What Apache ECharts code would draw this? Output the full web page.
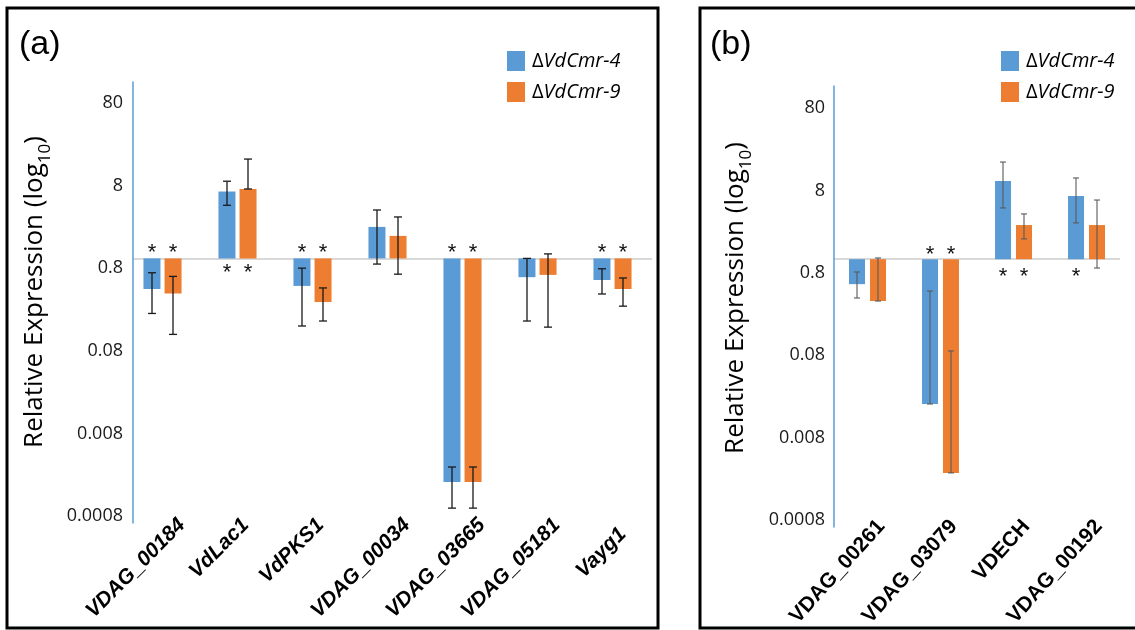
<!DOCTYPE html>
<html><head><meta charset="utf-8">
<script src="https://cdn.jsdelivr.net/npm/echarts@6/dist/echarts.min.js"></script>
<style>html,body{margin:0;padding:0;background:#fff}#c{width:1135px;height:630px}</style>
</head><body><div id="c"></div>
<script>
// ---------- DATA ----------
// Panel (a)
const catsA = ['VDAG_00184','VdLac1','VdPKS1','VDAG_00034','VDAG_03665','VDAG_05181','Vayg1'];
const a4   = [0.36, 4.6, 0.39, 1.82, 0.00233, 0.49, 0.455];
const a4Hi = [0.55, 6.0, 0.62, 2.83, 0.00345, 0.80, 0.61];
const a4Lo = [0.19, 3.2, 0.137, 0.69, 0.00118, 0.156, 0.316];
const a9   = [0.32, 4.9, 0.256, 1.44, 0.00233, 0.52, 0.36];
const a9Hi = [0.50, 10.7, 0.37, 2.36, 0.00345, 0.90, 0.48];
const a9Lo = [0.11, 4.9, 0.156, 0.53, 0.00118, 0.133, 0.23];
const a4Sig = [true, true, true, false, true, false, true];
const a9Sig = [true, true, true, false, true, false, true];
// Panel (b)
const catsB = ['VDAG_00261','VDAG_03079','VDECH','VDAG_00192'];
const b4   = [0.42, 0.0191, 6.0, 4.08];
const b4Hi = [0.575, 0.352, 9.8, 6.5];
const b4Lo = [0.294, 0.0191, 3.0, 2.04];
const b9   = [0.272, 0.00323, 1.93, 1.93];
const b9Hi = [0.825, 0.075, 2.57, 3.68];
const b9Lo = [0.272, 0.00323, 1.35, 0.637];
const b4Sig = [false, true, true, true];
const b9Sig = [false, true, true, false];
// Axis tick labels (bottom to top) and legend names
const tickLabels = ['0.0008','0.008','0.08','0.8','8','80'];
const seriesNames = ['ΔVdCmr-4','ΔVdCmr-9'];
const BASE = 0.8;

// ---------- HELPERS ----------
const tr = v => Math.log10(v / BASE);
const BLUE = '#5b9bd5', ORANGE = '#ed7d31';

function errSeries(xi, lo, hi, shift, cap, color, lw) {
  return {
    type: 'custom', xAxisIndex: xi, yAxisIndex: xi, z: 5, silent: true,
    data: lo.map((l, i) => [i, tr(l), tr(hi[i])]),
    renderItem(params, api) {
      const i = api.value(0);
      const x = api.coord([i, 0])[0] + shift;
      const yl = api.coord([i, api.value(1)])[1];
      const yh = api.coord([i, api.value(2)])[1];
      const st = { stroke: color, lineWidth: lw };
      return { type: 'group', children: [
        { type: 'line', shape: { x1: x, y1: yh, x2: x, y2: yl }, style: st },
        { type: 'line', shape: { x1: x - cap, y1: yh, x2: x + cap, y2: yh }, style: st },
        { type: 'line', shape: { x1: x - cap, y1: yl, x2: x + cap, y2: yl }, style: st }
      ]};
    }
  };
}
function starSeries(xi, vals, sig, shift, up, down) {
  return {
    type: 'custom', xAxisIndex: xi, yAxisIndex: xi, z: 6, silent: true,
    data: vals.map((v, i) => [i, tr(v), sig[i] ? 1 : 0]),
    renderItem(params, api) {
      if (!api.value(2)) return null;
      const i = api.value(0), t = api.value(1);
      const c = api.coord([i, 0]);
      const y = t < 0 ? c[1] - up : c[1] + down;
      return { type: 'text', x: c[0] + shift, y: y + 5,
        style: { text: '*', align: 'center', verticalAlign: 'middle',
          fontSize: 22, fontFamily: 'Liberation Sans', fill: '#111' } };
    }
  };
}
const hiddenX = gi => ({ gridIndex: gi, type: 'value', show: false, min: 0, max: 1 });
const hiddenY = gi => ({ gridIndex: gi, type: 'value', show: false, min: 0, max: 1 });

const catFontA = { fontSize: 21, fontWeight: 'bold', fontStyle: 'italic', fontFamily: 'Liberation Sans', color: '#000' };
const catFontB = { fontSize: 21, fontWeight: 'bold', fontFamily: 'Liberation Sans', color: '#000' };
const labelAdjA = { VdLac1: 's', VdPKS1: 's', Vayg1: 't' };

const legendText = {
  padding: [0, 0, 0, 2],
  rich: {
    d: { fontSize: 20, fontFamily: 'Open Sans', color: '#000' },
    i: { fontSize: 20, fontFamily: 'Open Sans', fontStyle: 'italic', color: '#000' }
  }
};
function legend(left) {
  return { data: seriesNames, orient: 'vertical', left: left, top: 51, padding: 0, icon: 'rect',
    itemWidth: 18, itemHeight: 20, itemGap: 11, selectedMode: false,
    formatter: n => '{d|Δ}{i|' + n.slice(1) + '}', textStyle: legendText };
}
function yTitle(x, y) {
  return { type: 'text', x: x, y: y, rotation: Math.PI / 2,
    style: { text: '{m|Relative Expression (log}{s|10}{m|)}', align: 'center', verticalAlign: 'middle',
      rich: {
        m: { fontSize: 26, fontFamily: 'Open Sans', lineHeight: 32, verticalAlign: 'top', fill: '#000' },
        s: { fontSize: 17, fontFamily: 'Open Sans', lineHeight: 17, verticalAlign: 'bottom', fill: '#000' }
      } } };
}

const option = {
  animation: false,
  backgroundColor: '#fff',
  grid: [
    // panel a: bars, axis line, y labels, x labels
    { left: 125, width: 525, top: 82, bottom: 107 },
    { left: 133, width: 519, top: 82, bottom: 107 },
    { left: 129, width: 10, top: 103, bottom: 114 },
    { left: 144.5, width: 525, top: 300, bottom: 116 },
    // panel b
    { left: 831, width: 292, top: 86, bottom: 103 },
    { left: 834, width: 286, top: 86, bottom: 103 },
    { left: 831, width: 10, top: 108, bottom: 110 },
    { left: 845, width: 312, top: 300, bottom: 115 }
  ],
  xAxis: [
    { gridIndex: 0, type: 'category', data: catsA, show: false },
    hiddenX(1), hiddenX(2),
    { gridIndex: 3, type: 'category', data: catsA, axisLine: { show: false }, axisTick: { show: false },
      axisLabel: { interval: 0, rotate: 45, margin: 8, formatter: v => '{' + (labelAdjA[v] || 'n') + '|' + v + '}',
        rich: { n: catFontA,
                s: Object.assign({ padding: [0, 8, 16, 0] }, catFontA),
                t: Object.assign({ padding: [0, 13, 0, 0] }, catFontA) } } },
    { gridIndex: 4, type: 'category', data: catsB, show: false },
    hiddenX(5), hiddenX(6),
    { gridIndex: 7, type: 'category', data: catsB, axisLine: { show: false }, axisTick: { show: false },
      axisLabel: Object.assign({ interval: 0, rotate: 48, margin: 8 }, catFontB) }
  ],
  yAxis: [
    { gridIndex: 0, type: 'value', min: -3, max: 2, show: false },
    { gridIndex: 1, type: 'value', min: -3, max: 2, interval: 3,
      axisLine: { show: true, lineStyle: { color: BLUE, width: 1.5 } }, axisTick: { show: false }, axisLabel: { show: false },
      splitLine: { show: true, showMinLine: false, showMaxLine: false, lineStyle: { color: '#d9d9d9', width: 2 } } },
    { gridIndex: 2, type: 'value', min: -3, max: 2, interval: 1,
      axisLine: { show: false }, axisTick: { show: false }, splitLine: { show: false },
      axisLabel: { margin: 6, fontSize: 18, fontFamily: 'Open Sans', color: '#1a1a1a', formatter: v => tickLabels[Math.round(v) + 3] } },
    hiddenY(3),
    { gridIndex: 4, type: 'value', min: -3, max: 1.94, show: false },
    { gridIndex: 5, type: 'value', min: -3, max: 1.94, interval: 3,
      axisLine: { show: true, lineStyle: { color: BLUE, width: 1.5 } }, axisTick: { show: false }, axisLabel: { show: false },
      splitLine: { show: true, showMinLine: false, showMaxLine: false, lineStyle: { color: '#d9d9d9', width: 2 } } },
    { gridIndex: 6, type: 'value', min: -3, max: 2, interval: 1,
      axisLine: { show: false }, axisTick: { show: false }, splitLine: { show: false },
      axisLabel: { margin: 6, fontSize: 18, fontFamily: 'Open Sans', color: '#1a1a1a', formatter: v => tickLabels[Math.round(v) + 3] } },
    hiddenY(7)
  ],
  legend: [legend(507), legend(1001)],
  series: [
    { type: 'bar', name: seriesNames[0], xAxisIndex: 0, yAxisIndex: 0, data: a4.map(tr), barWidth: 17, barGap: '24%', itemStyle: { color: BLUE }, silent: true },
    { type: 'bar', name: seriesNames[1], xAxisIndex: 0, yAxisIndex: 0, data: a9.map(tr), barWidth: 17, barGap: '24%', itemStyle: { color: ORANGE }, silent: true },
    errSeries(0, a4Lo, a4Hi, -10.5, 4, '#1a1a1a', 1.3),
    errSeries(0, a9Lo, a9Hi, 10.5, 4, '#1a1a1a', 1.3),
    starSeries(0, a4, a4Sig, -10.5, 10, 10),
    starSeries(0, a9, a9Sig, 10.5, 10, 10),
    { type: 'bar', name: seriesNames[0], xAxisIndex: 4, yAxisIndex: 4, data: b4.map(tr), barWidth: 16, barGap: '31%', itemStyle: { color: BLUE }, silent: true },
    { type: 'bar', name: seriesNames[1], xAxisIndex: 4, yAxisIndex: 4, data: b9.map(tr), barWidth: 16, barGap: '31%', itemStyle: { color: ORANGE }, silent: true },
    errSeries(4, b4Lo, b4Hi, -10.5, 3, '#5a5a5a', 1.1),
    errSeries(4, b9Lo, b9Hi, 10.5, 3, '#5a5a5a', 1.1),
    starSeries(4, b4, b4Sig, -10.5, 9, 13),
    starSeries(4, b9, b9Sig, 10.5, 9, 13)
  ],
  graphic: [
    { type: 'rect', z: 100, shape: { x: 7, y: 8, width: 651, height: 620 }, style: { fill: 'none', stroke: '#000', lineWidth: 3 } },
    { type: 'rect', z: 100, shape: { x: 700, y: 8, width: 460, height: 620 }, style: { fill: 'none', stroke: '#000', lineWidth: 3 } },
    { type: 'text', x: 19, y: 45, style: { text: '(a)', fontSize: 34, fontFamily: 'Liberation Sans', fill: '#000', verticalAlign: 'middle' } },
    { type: 'text', x: 710, y: 45, style: { text: '(b)', fontSize: 34, fontFamily: 'Liberation Sans', fill: '#000', verticalAlign: 'middle' } },
    yTitle(38, 292),
    yTitle(739, 298)
  ]
};
const chart = echarts.init(document.getElementById('c'), null, { renderer: 'canvas' });
chart.setOption(option);
</script></body></html>
